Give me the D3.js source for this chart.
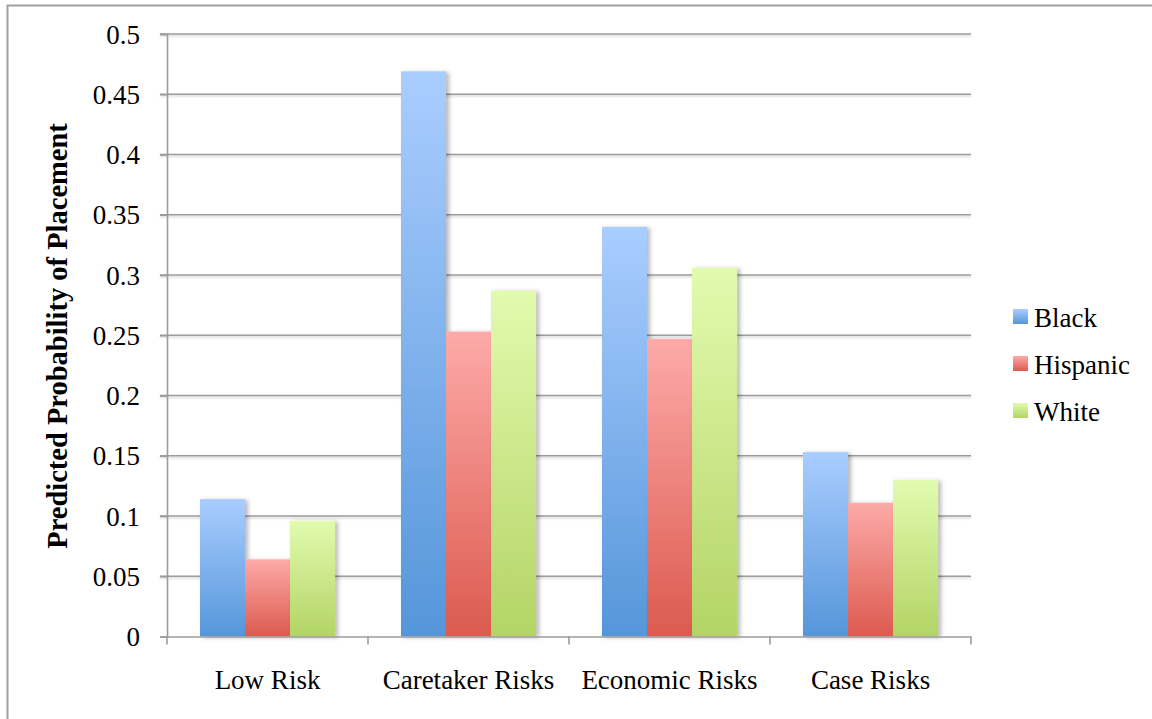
<!DOCTYPE html>
<html>
<head>
<meta charset="utf-8">
<script src="https://cdn.jsdelivr.net/npm/d3@7"></script>
<style>
  html, body { margin: 0; padding: 0; background: #fff; }
  svg { display: block; }
  text { font-family: "Liberation Serif", "Times New Roman", serif; fill: #000; }
</style>
</head>
<body>
<svg id="chart" width="1152" height="719"></svg>
<script>
// Predicted probability of placement by risk profile and race/ethnicity
const categories = ["Low Risk", "Caretaker Risks", "Economic Risks", "Case Risks"];
const seriesNames = ["Black", "Hispanic", "White"];
const black    = [0.114, 0.469, 0.340, 0.153];
const hispanic = [0.064, 0.253, 0.247, 0.111];
const white    = [0.096, 0.287, 0.306, 0.130];
const yTicks = [0, 0.05, 0.1, 0.15, 0.2, 0.25, 0.3, 0.35, 0.4, 0.45, 0.5];
const yTickLabels = ["0", "0.05", "0.1", "0.15", "0.2", "0.25", "0.3", "0.35", "0.4", "0.45", "0.5"];
const yTitle = "Predicted Probability of Placement";

const seriesValues = [black, hispanic, white];
const gradients = [
  { top: "#aacdff", bottom: "#5596da" },
  { top: "#fdaaa8", bottom: "#dc5a4f" },
  { top: "#e1fbaf", bottom: "#b3d465" }
];

const svg = d3.select("#chart");
const plot = { left: 167, right: 971, top: 34, bottom: 636.5 };
const labelSize = 27;

// Outer frame
svg.append("rect")
  .attr("x", 7.5).attr("y", 5.5)
  .attr("width", 1160).attr("height", 730)
  .attr("fill", "none").attr("stroke", "#a0a0a0").attr("stroke-width", 2);

const defs = svg.append("defs");
gradients.forEach((g, i) => {
  const lg = defs.append("linearGradient")
    .attr("id", "grad" + i)
    .attr("x1", 0).attr("y1", 0).attr("x2", 0).attr("y2", 1);
  lg.append("stop").attr("offset", "0%").attr("stop-color", g.top);
  lg.append("stop").attr("offset", "100%").attr("stop-color", g.bottom);
});
const shadow = defs.append("filter").attr("id", "barShadow")
  .attr("x", "-20%").attr("y", "-5%").attr("width", "150%").attr("height", "110%");
shadow.append("feDropShadow")
  .attr("dx", 3).attr("dy", 1).attr("stdDeviation", 2)
  .attr("flood-color", "#000").attr("flood-opacity", 0.28);
const lineShadow = defs.append("filter").attr("id", "lineShadow")
  .attr("x", "-1%").attr("y", "-200%").attr("width", "102%").attr("height", "500%");
lineShadow.append("feDropShadow")
  .attr("dx", 0).attr("dy", 1.5).attr("stdDeviation", 0.8)
  .attr("flood-color", "#000").attr("flood-opacity", 0.2);

const y = d3.scaleLinear().domain([0, 0.5]).range([plot.bottom, plot.top]);
const x0 = d3.scaleBand().domain(categories).range([plot.left, plot.right]).paddingInner(0).paddingOuter(0);
const x1 = d3.scaleBand().domain(seriesNames).range([0, x0.bandwidth()]).paddingInner(0).paddingOuter(0.733);

// Gridlines
svg.append("g").attr("filter", "url(#lineShadow)")
  .selectAll("line").data(yTicks.filter(t => t > 0)).join("line")
  .attr("x1", plot.left - 7).attr("x2", plot.right)
  .attr("y1", d => y(d)).attr("y2", d => y(d))
  .attr("stroke", "#9c9c9c").attr("stroke-width", 1.6);

// Y axis
const yAxis = d3.axisLeft(y).tickValues(yTicks)
  .tickFormat((d, i) => yTickLabels[i]).tickSize(7).tickPadding(20);
const gy = svg.append("g").attr("transform", `translate(${plot.left},0)`).call(yAxis);
gy.select(".domain").attr("stroke", "#9c9c9c").attr("stroke-width", 1.6);
gy.selectAll(".tick line").attr("stroke", "#9c9c9c").attr("stroke-width", 1.6);
gy.selectAll(".tick text")
  .attr("font-family", "Liberation Serif, serif").attr("font-size", labelSize).attr("fill", "#000")
  .attr("dy", "0.34em");

// Bars
const groups = svg.append("g").selectAll("g").data(categories).join("g")
  .attr("transform", d => `translate(${x0(d)},0)`);
groups.selectAll("rect")
  .data((c, ci) => seriesNames.map((s, si) => ({ s, si, v: seriesValues[si][ci] })))
  .join("rect")
  .attr("x", d => x1(d.s))
  .attr("width", x1.bandwidth())
  .attr("y", d => y(d.v))
  .attr("height", d => y(0) - y(d.v))
  .attr("fill", d => `url(#grad${d.si})`)
  .attr("filter", "url(#barShadow)");

// X axis
const xAxis = d3.axisBottom(x0).tickSize(0).tickPadding(33);
const gx = svg.append("g").attr("transform", `translate(0,${plot.bottom})`).call(xAxis);
gx.select(".domain").attr("stroke", "#9c9c9c").attr("stroke-width", 1.6);
gx.selectAll(".tick text")
  .attr("font-family", "Liberation Serif, serif").attr("font-size", labelSize).attr("fill", "#000");
// Category boundary ticks
const bounds = categories.map(c => x0(c)).concat([plot.right]);
gx.append("g").selectAll("line").data(bounds).join("line")
  .attr("x1", d => d).attr("x2", d => d).attr("y1", 0).attr("y2", 8)
  .attr("stroke", "#9c9c9c").attr("stroke-width", 1.6);

// Y axis title
svg.append("text")
  .attr("transform", `translate(67,${(123 + 549) / 2}) rotate(-90)`)
  .attr("text-anchor", "middle")
  .attr("font-weight", "bold").attr("font-size", 28.5)
  .text(yTitle);

// Legend
const legend = svg.append("g").attr("transform", "translate(1013,309)");
const items = legend.selectAll("g").data(seriesNames).join("g")
  .attr("transform", (d, i) => `translate(0,${i * 47})`);
items.append("rect").attr("width", 15).attr("height", 15)
  .attr("fill", (d, i) => `url(#grad${i})`);
items.append("text").attr("x", 21).attr("y", 18)
  .attr("font-size", labelSize).text(d => d);
</script>
</body>
</html>
